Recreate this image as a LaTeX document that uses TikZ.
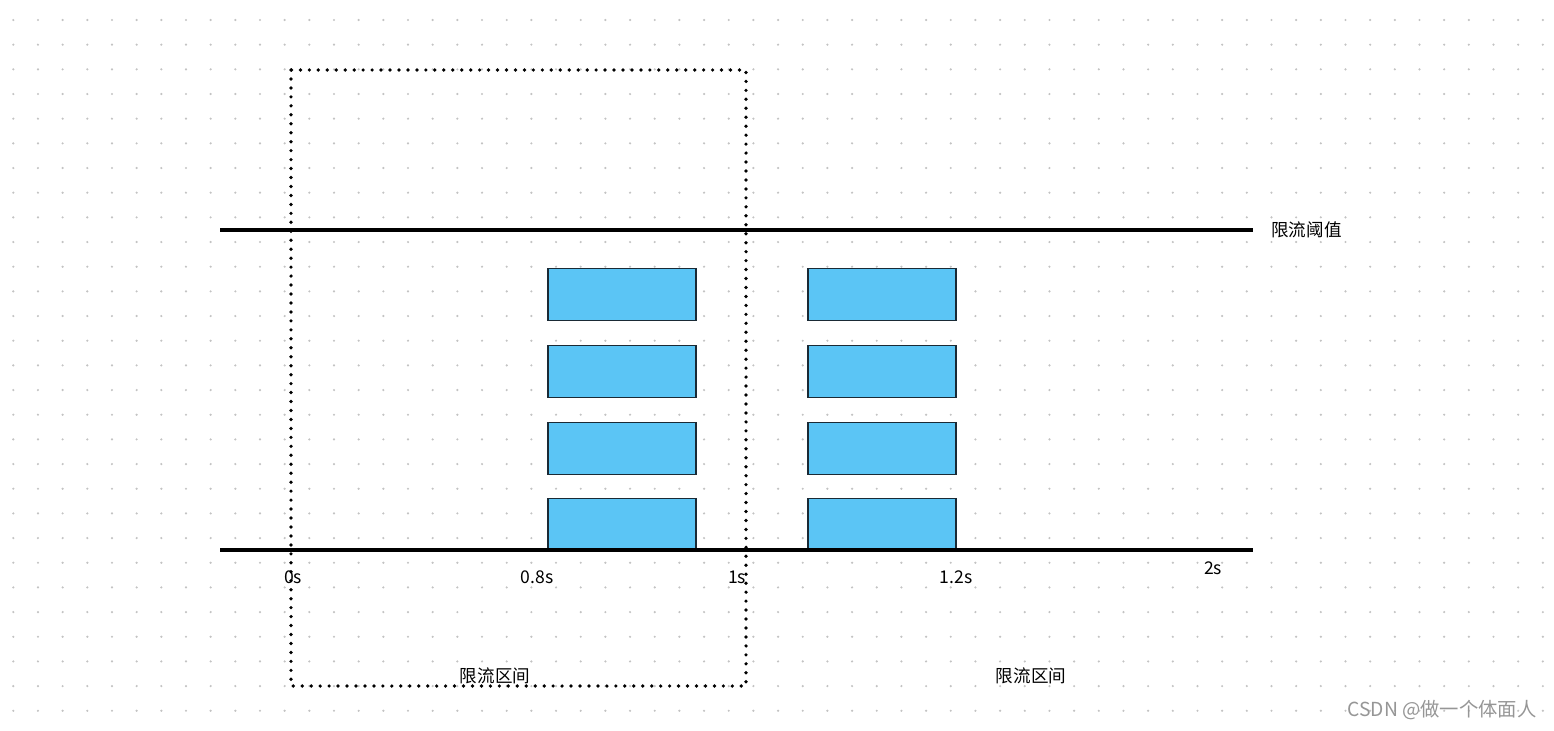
\documentclass[tikz,border=0pt]{standalone}
\usepackage{fontspec}
\usepackage{xcolor}
\usepackage{tikz}
\newfontfamily\cjk{Noto Sans CJK SC}
\definecolor{slotblue}{RGB}{91,197,245}
\definecolor{slotedge}{RGB}{26,42,53}
\definecolor{gridgray}{RGB}{195,195,195}
\definecolor{markgray}{RGB}{150,150,150}
\tikzset{
  reqbox/.style={draw=slotedge,fill=slotblue,line width=0.9pt,inner sep=0pt,
    minimum width=2.96cm,minimum height=1.04cm},
  limitline/.style={line width=2.1pt,black},
  windowframe/.style={line width=2.1pt,line cap=round,dash pattern=on 0pt off 5.1pt},
  ticklabel/.style={font=\cjk\fontsize{10}{12}\selectfont,inner sep=0pt},
  cjklabel/.style={font=\cjk\fontsize{10}{12}\selectfont,inner sep=0pt}
}

\begin{document}
\begin{tikzpicture}[x=0.02cm,y=-0.02cm]
  \useasboundingbox[fill=white] (0,0) rectangle (1554,730);
  % background dot grid
  \foreach \i in {0,...,62}{\foreach \j in {0,...,28}{
    \fill[gridgray] (13.3+24.67*\i,20+24.67*\j) circle (1.2);}}
  % threshold and time axis
  \coordinate (thrL) at (220,230);
  \coordinate (thrR) at (1253,230);
  \coordinate (axL) at (220,550);
  \coordinate (axR) at (1253,550);
  \node[cjklabel,anchor=west] (thrlabel) at (1271,230) {限流阈值};
  \draw[limitline] (thrL) -- (thrR);
  % requests
  \foreach \col/\cx in {a/622,b/882}{
    \foreach \row/\cy in {1/294.5,2/371.5,3/448.5,4/524.5}{
      \node[reqbox] (\col\row) at (\cx,\cy) {};}}
  \draw[limitline] (axL) -- (axR);
  \foreach \t/\tx/\ty in {0s/293/577,0.8s/537/577,1s/737/577,1.2s/956/577,2s/1213/568}{
    \node[ticklabel] (t\tx) at (\tx,\ty) {\t};}
  \node[cjklabel] (win1) at (495,676) {限流区间};
  \node[cjklabel] (win2) at (1031,676) {限流区间};
  % one-second window
  \draw[windowframe] (291,70) rectangle (746,686);
  \node[font=\cjk\fontsize{11}{13}\selectfont,text=markgray,inner sep=0pt] (mark) at (1442,710) {CSDN @做一个体面人};
\end{tikzpicture}
\end{document}
